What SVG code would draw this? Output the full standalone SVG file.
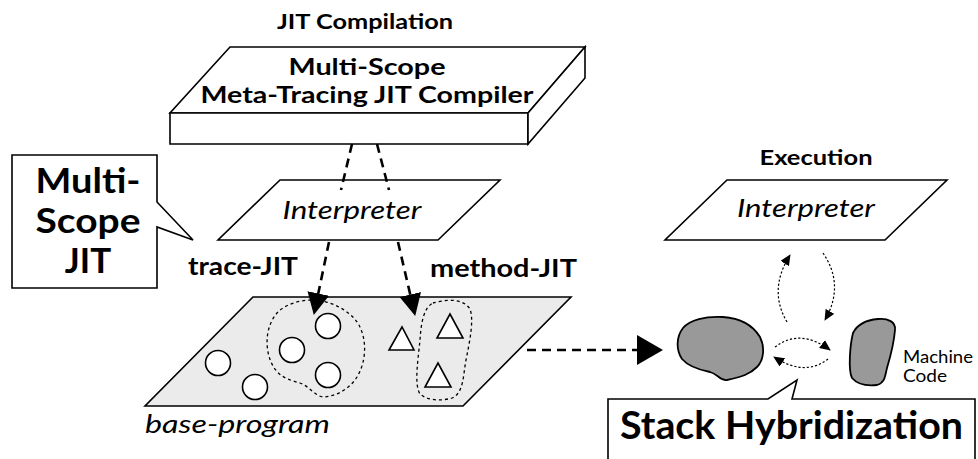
<svg xmlns="http://www.w3.org/2000/svg" width="978" height="459" viewBox="0 0 978 459">
<style>
.shape{fill:#fff;stroke:#000;stroke-width:1.6;stroke-linejoin:miter}
.base{fill:#ebebeb;stroke:#000;stroke-width:1.6}
.blob{fill:#999;stroke:#000;stroke-width:1.8}
.item{fill:#fff;stroke:#000;stroke-width:1.6}
.encl{fill:none;stroke:#000;stroke-width:1.3;stroke-dasharray:3,3}
.t{font-family:Lato,"Open Sans","Liberation Sans",sans-serif;fill:#000}
.b{font-weight:bold}
.i{font-style:italic}
.dash{fill:none;stroke:#000;stroke-width:2.6;stroke-dasharray:9,6}
.dot{fill:none;stroke:#000;stroke-width:1.2;stroke-dasharray:2.2,2}
</style>
<defs>
<marker id="big" markerUnits="userSpaceOnUse" markerWidth="22" markerHeight="22" refX="21" refY="11" orient="auto"><path d="M0,0 L22,11 L0,22 z" fill="#000"/></marker>
<marker id="huge" markerUnits="userSpaceOnUse" markerWidth="26" markerHeight="30" refX="25" refY="15" orient="auto"><path d="M0,0 L26,15 L0,30 z" fill="#000"/></marker>
<marker id="small" markerUnits="userSpaceOnUse" markerWidth="11" markerHeight="10" refX="10" refY="5" orient="auto"><path d="M0,0 L11,5 L0,10 z" fill="#000"/></marker>
</defs>
<rect width="978" height="459" fill="#fff"/>

<g id="compiler">
<text class="t b" x="365" y="29" font-size="21" text-anchor="middle" textLength="176" lengthAdjust="spacingAndGlyphs">JIT Compilation</text>
<path class="shape" d="M230,47 H585 L528,113 H170 Z"/>
<path class="shape" d="M170,113 H528 V144 H170 Z"/>
<path class="shape" d="M528,113 L585,47 V78 L528,144 Z"/>
<text class="t b" x="367" y="75" font-size="23" text-anchor="middle" textLength="157" lengthAdjust="spacingAndGlyphs">Multi-Scope</text>
<text class="t b" x="367" y="103" font-size="23" text-anchor="middle" textLength="333" lengthAdjust="spacingAndGlyphs">Meta-Tracing JIT Compiler</text>
</g>

<g id="interpreter-left">
<path class="shape" d="M280,180 H500 L438,240 H218 Z"/>
<text class="t i" x="352" y="219" font-size="26" text-anchor="middle" textLength="139" lengthAdjust="spacingAndGlyphs">Interpreter</text>
</g>

<g id="callout-multiscope">
<path class="shape" d="M12,155 H157 V202 L193,240 L157,227 V288 H12 Z"/>
<text class="t b" x="88" y="193" font-size="35" text-anchor="middle" textLength="105" lengthAdjust="spacingAndGlyphs">Multi-</text>
<text class="t b" x="88" y="233" font-size="35" text-anchor="middle" textLength="105" lengthAdjust="spacingAndGlyphs">Scope</text>
<text class="t b" x="88" y="273" font-size="35" text-anchor="middle">JIT</text>
</g>

<g id="label-trace">
<text class="t b" x="188" y="275" font-size="24" textLength="110" lengthAdjust="spacingAndGlyphs">trace-JIT</text>
</g>
<g id="label-method">
<text class="t b" x="430" y="277" font-size="24" textLength="147" lengthAdjust="spacingAndGlyphs">method-JIT</text>
</g>

<g id="base-program">
<path class="base" d="M253,297 H571 L463,406 H145 Z"/>
<path class="encl" d="M313,300 C328,300 352,310 360,327 C367,342 366,362 357,377 C350,388 338,396 323,397 C315,396 309,386 300,383 C290,380 278,378 271,362 C265,348 265,327 277,313 C285,304 300,300 313,300 Z"/>
<path class="encl" d="M433,303 C444,300 462,297 470,309 C474,320 470,340 466,360 C463,375 464,393 452,398 C442,401 428,401 420,394 C414,385 418,360 420,340 C421,325 423,308 433,303 Z"/>
<circle class="item" cx="218" cy="363" r="12.5"/>
<circle class="item" cx="255" cy="387" r="12.5"/>
<circle class="item" cx="292" cy="350" r="12.5"/>
<circle class="item" cx="328" cy="326" r="12.5"/>
<circle class="item" cx="328" cy="375" r="12.5"/>
<path class="item" d="M389,350 H414 L402,327 Z"/>
<path class="item" d="M437,338 H463 L450,314 Z"/>
<path class="item" d="M425,387 H451 L438,363 Z"/>
<text class="t i" x="145" y="433" font-size="26" textLength="185" lengthAdjust="spacingAndGlyphs">base-program</text>
</g>

<g id="execution">
<text class="t b" x="816" y="165" font-size="21" text-anchor="middle" textLength="113" lengthAdjust="spacingAndGlyphs">Execution</text>
</g>
<g id="interpreter-right">
<path class="shape" d="M727,180 H947 L885,240 H665 Z"/>
<text class="t i" x="806" y="217" font-size="26" text-anchor="middle" textLength="138" lengthAdjust="spacingAndGlyphs">Interpreter</text>
</g>

<g id="stack-blob">
<path class="blob" d="M683,328 C690,320 705,316 723,317 C738,318 752,324 760,337 C765,347 764,360 757,367 C750,374 742,377 727,380 C720,381 718,374 710,372 C700,370 688,366 682,359 C676,350 676,337 683,328 Z"/>
</g>
<g id="machine-code">
<path class="blob" d="M853,333 C857,325 866,320 878,319 C888,318 896,322 895,330 C894,342 890,358 887,368 C885,376 885,383 877,385 C868,386 858,385 852,378 C848,370 850,345 853,333 Z"/>
<text class="t" x="903" y="363" font-size="17" textLength="70" lengthAdjust="spacingAndGlyphs">Machine</text>
<text class="t" x="903" y="382" font-size="17" textLength="44" lengthAdjust="spacingAndGlyphs">Code</text>
</g>

<g id="callout-stack">
<path class="shape" d="M608,399 H768 L797,380 L792,399 H975 V470 H608 Z"/>
<text class="t b" x="620" y="439" font-size="39" textLength="343" lengthAdjust="spacingAndGlyphs">Stack Hybridization</text>
</g>

<g id="connectors">
<line class="dash" x1="352" y1="144" x2="341" y2="190"/>
<line class="dash" x1="377" y1="144" x2="389" y2="190"/>
<line class="dash" x1="329" y1="242" x2="314" y2="314" marker-end="url(#big)"/>
<line class="dash" x1="398" y1="242" x2="415" y2="315" marker-end="url(#big)"/>
<line class="dash" x1="527" y1="350" x2="662" y2="350" marker-end="url(#huge)"/>
<path class="dot" d="M787,322 Q768,290 790,255" marker-end="url(#small)"/>
<path class="dot" d="M823,253 Q845,285 825,320" marker-end="url(#small)"/>
<path class="dot" d="M775,347 Q800,328 830,350" marker-end="url(#small)"/>
<path class="dot" d="M828,359 Q805,377 774,357" marker-end="url(#small)"/>
</g>
</svg>
